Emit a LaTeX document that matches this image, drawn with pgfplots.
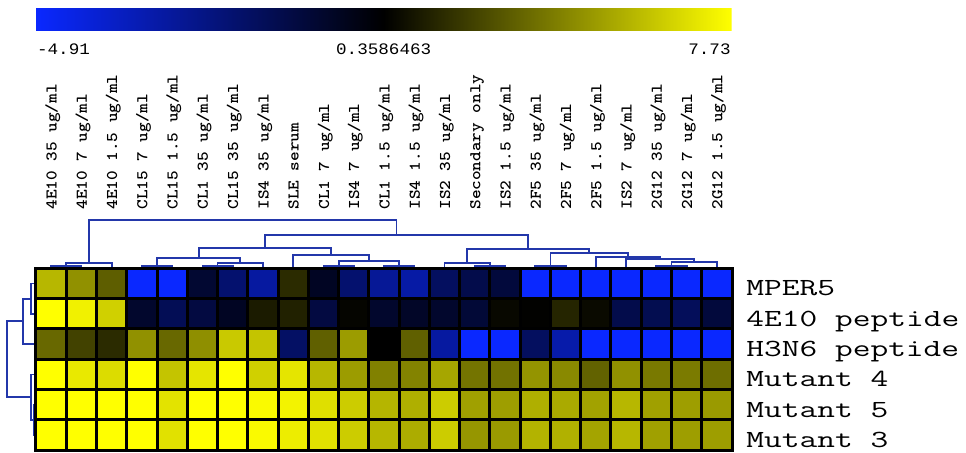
\documentclass[border=0pt]{standalone}
\usepackage{pgfplots}
\pgfplotsset{compat=1.18}
\usepackage{fontspec}
\newfontfamily\barfont[FakeStretch=1.1]{Liberation Mono}
\definecolor{dendcol}{RGB}{35,55,170}
\newcommand{\collab}[2]{\node[rotate=90, anchor=base west, inner sep=0pt, font=\ttfamily\bfseries\fontsize{8.2}{8.2}\selectfont] at (axis cs:#1,210) {\scalebox{1.12}[1]{#2}};}
\newcommand{\rowlab}[2]{\node[anchor=base west, inner sep=0pt, font=\ttfamily\fontsize{12.3}{12.3}\selectfont] at (axis cs:746,#1) {\scalebox{1.4}[1]{#2}};}
\begin{document}
\begin{tikzpicture}
\begin{axis}[
  x=0.5pt, y=0.5pt, y dir=reverse,
  xmin=0, xmax=966, ymin=0, ymax=453,
  hide axis, clip=false,
  colormap={bky}{rgb255(0pt)=(10,40,255); rgb255(1pt)=(0,0,0); rgb255(2pt)=(255,255,0)},
  point meta min=0, point meta max=1,
  colorbar horizontal,
  colorbar style={at={(parent axis.north west)}, anchor=north west,
    xshift=17.85pt, yshift=4.5pt, width=348pt, height=11.35pt, scale only axis,
    xtick=\empty, axis line style={draw=none}},
  dendro/.style={draw=dendcol, line width=0.9pt, no marks, forget plot},
]
\path (axis cs:0,0) rectangle (axis cs:966,453);
% heatmap: c = column, r = row, v = value
\addplot[scatter, only marks, mark=square*, mark size=7.575pt, line width=1.5pt,
  scatter/use mapped color={draw=black, fill=mapped color},
  point meta={\thisrow{v}<0.3586463 ? 0.5*(\thisrow{v}+4.91)/5.2686463 : 0.5+0.5*(\thisrow{v}-0.3586463)/7.3713537}]
  table[x expr=36+30.26*(\thisrow{c}+0.5), y expr=268.3+30.33*(\thisrow{r}+0.5)] {
c r v
0 0 5.66
1 0 4.57
2 0 3.07
3 0 -4.91
4 0 -4.91
5 0 -0.67
6 0 -1.91
7 0 -2.95
8 0 1.62
9 0 -0.36
10 0 -1.91
11 0 -2.74
12 0 -3.05
13 0 -1.60
14 0 -1.19
15 0 -0.88
16 0 -4.91
17 0 -4.91
18 0 -4.91
19 0 -4.91
20 0 -4.91
21 0 -4.91
22 0 -4.91
0 1 7.73
1 1 7.34
2 1 6.38
3 1 -0.57
4 1 -1.40
5 1 -0.98
6 1 -0.36
7 1 1.14
8 1 1.32
9 1 -0.98
10 1 0.50
11 1 -0.57
12 1 -0.47
13 1 -0.57
14 1 -0.78
15 1 0.60
16 1 0.42
17 1 1.44
18 1 0.66
19 1 -1.19
20 1 -1.29
21 1 -1.50
22 1 -0.88
0 2 3.37
1 2 2.28
2 2 1.62
3 2 4.57
4 2 3.37
5 2 4.51
6 2 6.19
7 2 6.02
8 2 -1.71
9 2 3.13
10 2 4.87
11 2 0.36
12 2 3.13
13 2 -2.95
14 2 -4.91
15 2 -4.91
16 2 -1.60
17 2 -3.15
18 2 -4.91
19 2 -4.91
20 2 -4.91
21 2 -4.91
22 2 -4.91
0 3 7.73
1 3 7.10
2 3 6.74
3 3 7.73
4 3 6.02
5 3 6.98
6 3 7.73
7 3 6.38
8 3 6.98
9 3 5.66
10 3 4.87
11 3 4.09
12 3 4.15
13 3 5.17
14 3 3.73
15 3 3.67
16 3 4.63
17 3 4.33
18 3 3.19
19 3 4.57
20 3 3.85
21 3 3.91
22 3 3.55
0 4 7.73
1 4 7.73
2 4 7.73
3 4 7.73
4 4 6.92
5 4 7.73
6 4 7.73
7 4 7.58
8 4 7.40
9 4 6.80
10 4 6.26
11 4 5.60
12 4 5.41
13 4 6.26
14 4 4.99
15 4 4.93
16 4 5.41
17 4 5.29
18 4 5.05
19 4 5.66
20 4 4.99
21 4 4.93
22 4 4.81
0 5 7.73
1 5 7.73
2 5 7.73
3 5 7.73
4 5 6.86
5 5 7.73
6 5 7.73
7 5 7.58
8 5 7.22
9 5 6.86
10 5 6.26
11 5 5.66
12 5 5.35
13 5 6.26
14 5 4.69
15 5 4.81
16 5 5.53
17 5 5.47
18 5 5.11
19 5 5.66
20 5 4.99
21 5 4.93
22 5 4.93
};
% column dendrogram (pixel coordinates)
\addplot[dendro] coordinates {(51.1,268)(51.1,266)(81.4,266)(81.4,268)};
\addplot[dendro] coordinates {(66.25,266)(66.25,262.7)(111.7,262.7)(111.7,268)};
\addplot[dendro] coordinates {(141.9,268)(141.9,265.7)(172.2,265.7)(172.2,268)};
\addplot[dendro] coordinates {(202.4,268)(202.4,266)(232.7,266)(232.7,268)};
\addplot[dendro] coordinates {(217.55,266)(217.55,262.7)(263.0,262.7)(263.0,268)};
\addplot[dendro] coordinates {(157.05,265.7)(157.05,257.7)(240.3,257.7)(240.3,262.7)};
\addplot[dendro] coordinates {(323.5,268)(323.5,265.7)(353.7,265.7)(353.7,268)};
\addplot[dendro] coordinates {(384.0,268)(384.0,265.7)(414.3,265.7)(414.3,268)};
\addplot[dendro] coordinates {(338.6,265.7)(338.6,260.7)(399.15,260.7)(399.15,265.7)};
\addplot[dendro] coordinates {(293.2,268)(293.2,255)(368.9,255)(368.9,260.7)};
\addplot[dendro] coordinates {(198.7,257.7)(198.7,247.7)(331.05,247.7)(331.05,255)};
\addplot[dendro] coordinates {(474.8,268)(474.8,265.7)(505.0,265.7)(505.0,268)};
\addplot[dendro] coordinates {(444.5,268)(444.5,262.7)(489.9,262.7)(489.9,265.7)};
\addplot[dendro] coordinates {(535.3,268)(535.3,265.7)(565.6,265.7)(565.6,268)};
\addplot[dendro] coordinates {(656.3,268)(656.3,265.7)(686.6,265.7)(686.6,268)};
\addplot[dendro] coordinates {(671.45,265.7)(671.45,262.3)(716.9,262.3)(716.9,268)};
\addplot[dendro] coordinates {(626.1,268)(626.1,259.3)(694.2,259.3)(694.2,262.3)};
\addplot[dendro] coordinates {(595.8,268)(595.8,257.3)(660.15,257.3)(660.15,259.3)};
\addplot[dendro] coordinates {(550.45,265.7)(550.45,253.3)(628.0,253.3)(628.0,257.3)};
\addplot[dendro] coordinates {(467.2,262.7)(467.2,249)(589.2,249)(589.2,253.3)};
\addplot[dendro] coordinates {(264.9,247.7)(264.9,235)(528.2,235)(528.2,249)};
\addplot[dendro] coordinates {(89.0,262.7)(89.0,220.3)(396.55,220.3)(396.55,235)};
% row dendrogram
\addplot[dendro] coordinates {(36,283.5)(30.7,283.5)(30.7,313.8)(36,313.8)};
\addplot[dendro] coordinates {(30.7,298.65)(22.7,298.65)(22.7,344.2)(36,344.2)};
\addplot[dendro] coordinates {(36,404.8)(34,404.8)(34,435.2)(36,435.2)};
\addplot[dendro] coordinates {(36,374.5)(30.7,374.5)(30.7,420)(34,420)};
\addplot[dendro] coordinates {(22.7,321.4)(7.3,321.4)(7.3,397.25)(30.7,397.25)};
% colorbar labels
\node[anchor=base west, inner sep=0pt, font=\barfont\fontsize{8}{8}\selectfont] at (axis cs:36.7,55) {-4.91};
\node[anchor=base, inner sep=0pt, font=\barfont\fontsize{8}{8}\selectfont] at (axis cs:383.7,55) {0.3586463};
\node[anchor=base east, inner sep=0pt, font=\barfont\fontsize{8}{8}\selectfont] at (axis cs:731,55) {7.73};
% column labels
\collab{56.6}{4E10 35 ug/ml}
\collab{86.9}{4E10 7 ug/ml}
\collab{117.2}{4E10 1.5 ug/ml}
\collab{147.4}{CL15 7 ug/ml}
\collab{177.7}{CL15 1.5 ug/ml}
\collab{207.9}{CL1 35 ug/ml}
\collab{238.2}{CL15 35 ug/ml}
\collab{268.5}{IS4 35 ug/ml}
\collab{298.7}{SLE serum}
\collab{329.0}{CL1 7 ug/ml}
\collab{359.2}{IS4 7 ug/ml}
\collab{389.5}{CL1 1.5 ug/ml}
\collab{419.8}{IS4 1.5 ug/ml}
\collab{450.0}{IS2 35 ug/ml}
\collab{480.3}{Secondary only}
\collab{510.5}{IS2 1.5 ug/ml}
\collab{540.8}{2F5 35 ug/ml}
\collab{571.1}{2F5 7 ug/ml}
\collab{601.3}{2F5 1.5 ug/ml}
\collab{631.6}{IS2 7 ug/ml}
\collab{661.8}{2G12 35 ug/ml}
\collab{692.1}{2G12 7 ug/ml}
\collab{722.4}{2G12 1.5 ug/ml}
% row labels
\rowlab{296}{MPER5}
\rowlab{326.3}{4E10 peptide}
\rowlab{356.7}{H3N6 peptide}
\rowlab{387}{Mutant 4}
\rowlab{417.3}{Mutant 5}
\rowlab{447.7}{Mutant 3}
\end{axis}
\end{tikzpicture}
\end{document}
